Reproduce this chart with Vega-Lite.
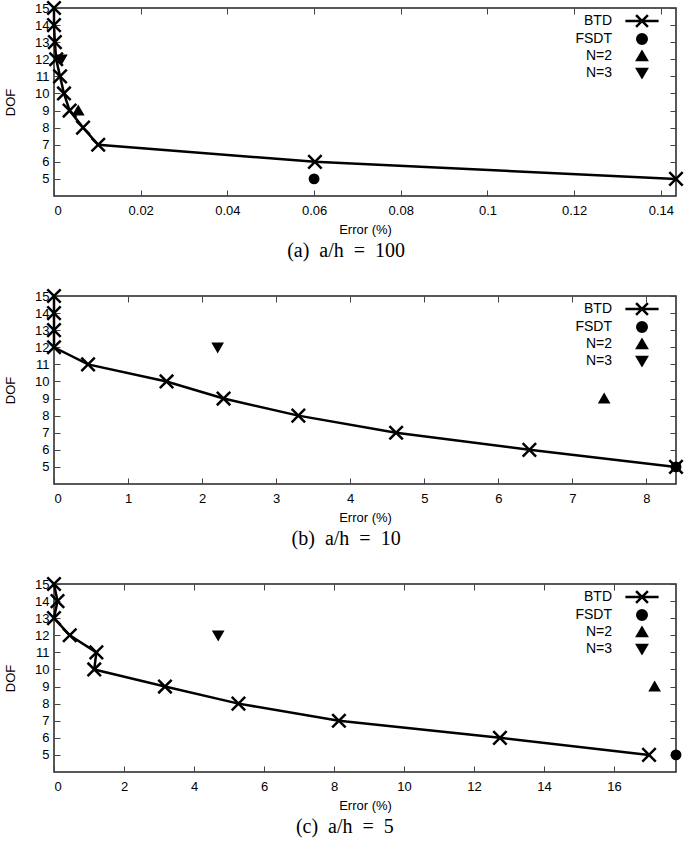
{
  "$schema": "https://vega.github.io/schema/vega-lite/v6.json",
  "padding": {"top": -5, "left": 3, "right": 0, "bottom": 0},
  "background": "white",
  "spacing": 21,
  "resolve": {"scale": {"shape": "independent"}, "legend": {"shape": "independent"}},
  "datasets": {
    "pts": [
      {"panel": "a", "series": "BTD", "err": 0, "dof": 15},
      {"panel": "a", "series": "BTD", "err": 0, "dof": 14},
      {"panel": "a", "series": "BTD", "err": 0.0002, "dof": 13},
      {"panel": "a", "series": "BTD", "err": 0.0005, "dof": 12},
      {"panel": "a", "series": "BTD", "err": 0.0014, "dof": 11},
      {"panel": "a", "series": "BTD", "err": 0.0023, "dof": 10},
      {"panel": "a", "series": "BTD", "err": 0.0036, "dof": 9},
      {"panel": "a", "series": "BTD", "err": 0.0067, "dof": 8},
      {"panel": "a", "series": "BTD", "err": 0.0102, "dof": 7},
      {"panel": "a", "series": "BTD", "err": 0.0602, "dof": 6},
      {"panel": "a", "series": "BTD", "err": 0.1435, "dof": 5},
      {"panel": "a", "series": "FSDT", "err": 0.06, "dof": 5},
      {"panel": "a", "series": "N=2", "err": 0.0056, "dof": 9},
      {"panel": "a", "series": "N=3", "err": 0.0017, "dof": 12},
      {"panel": "b", "series": "BTD", "err": 0, "dof": 15},
      {"panel": "b", "series": "BTD", "err": 0, "dof": 14},
      {"panel": "b", "series": "BTD", "err": 0, "dof": 13},
      {"panel": "b", "series": "BTD", "err": 0, "dof": 12},
      {"panel": "b", "series": "BTD", "err": 0.46, "dof": 11},
      {"panel": "b", "series": "BTD", "err": 1.52, "dof": 10},
      {"panel": "b", "series": "BTD", "err": 2.29, "dof": 9},
      {"panel": "b", "series": "BTD", "err": 3.3, "dof": 8},
      {"panel": "b", "series": "BTD", "err": 4.62, "dof": 7},
      {"panel": "b", "series": "BTD", "err": 6.42, "dof": 6},
      {"panel": "b", "series": "BTD", "err": 8.4, "dof": 5},
      {"panel": "b", "series": "FSDT", "err": 8.4, "dof": 5},
      {"panel": "b", "series": "N=2", "err": 7.43, "dof": 9},
      {"panel": "b", "series": "N=3", "err": 2.21, "dof": 12},
      {"panel": "c", "series": "BTD", "err": 0, "dof": 15},
      {"panel": "c", "series": "BTD", "err": 0.1, "dof": 14},
      {"panel": "c", "series": "BTD", "err": 0, "dof": 13},
      {"panel": "c", "series": "BTD", "err": 0.45, "dof": 12},
      {"panel": "c", "series": "BTD", "err": 1.21, "dof": 11},
      {"panel": "c", "series": "BTD", "err": 1.15, "dof": 10},
      {"panel": "c", "series": "BTD", "err": 3.17, "dof": 9},
      {"panel": "c", "series": "BTD", "err": 5.27, "dof": 8},
      {"panel": "c", "series": "BTD", "err": 8.14, "dof": 7},
      {"panel": "c", "series": "BTD", "err": 12.74, "dof": 6},
      {"panel": "c", "series": "BTD", "err": 17.0, "dof": 5},
      {"panel": "c", "series": "FSDT", "err": 17.77, "dof": 5},
      {"panel": "c", "series": "N=2", "err": 17.16, "dof": 9},
      {"panel": "c", "series": "N=3", "err": 4.69, "dof": 12}
    ]
  },
  "vconcat": [
    {
      "width": 622, "height": 188,
      "data": {"name": "pts"},
      "transform": [{"filter": "datum.panel === 'a'"}],
      "title": {"text": "(a)\u2002a/h\u2002=\u2002100", "orient": "bottom", "frame": "bounds", "anchor": "middle", "font": "Liberation Serif", "fontSize": 20, "fontWeight": "normal", "color": "black", "offset": 5},
      "layer": [
        {
          "transform": [{"filter": "datum.series === 'BTD'"}],
          "mark": {"type": "line", "color": "black", "strokeWidth": 2.5, "clip": false},
          "encoding": {
            "x": {"field": "err", "type": "quantitative", "scale": {"domain": [0, 0.1435], "nice": false, "zero": false},
                  "axis": {"orient": "bottom", "values": [0, 0.02, 0.04, 0.06, 0.08, 0.1, 0.12, 0.14], "format": "~g", "title": "Error (%)"}},
            "y": {"field": "dof", "type": "quantitative", "scale": {"domain": [4, 15], "nice": false, "zero": false},
                  "axis": {"orient": "left", "values": [5, 6, 7, 8, 9, 10, 11, 12, 13, 14, 15], "title": "DOF"}},
            "order": {"field": "dof", "type": "quantitative"}
          }
        },
        {
          "transform": [{"filter": "datum.series === 'BTD'"}],
          "mark": {"type": "point", "shape": "M-1,-1L1,1M-1,1L1,-1", "filled": true, "color": "black", "stroke": "black", "strokeWidth": 2.5, "size": 180, "opacity": 1, "clip": false},
          "encoding": {
            "x": {"field": "err", "type": "quantitative", "axis": {"orient": "top", "values": [0, 0.02, 0.04, 0.06, 0.08, 0.1, 0.12, 0.14], "labels": false, "title": null}},
            "y": {"field": "dof", "type": "quantitative", "axis": {"orient": "right", "values": [5, 6, 7, 8, 9, 10, 11, 12, 13, 14, 15], "labels": false, "title": null}}
          }
        },
        {
          "transform": [{"filter": "datum.series !== 'BTD'"}],
          "mark": {"type": "point", "filled": true, "color": "black", "stroke": "black", "strokeWidth": 2.5, "size": 70, "opacity": 1, "clip": false},
          "encoding": {
            "x": {"field": "err", "type": "quantitative", "axis": null},
            "y": {"field": "dof", "type": "quantitative", "axis": null},
            "shape": {"field": "series", "type": "nominal", "title": null,
                      "scale": {"domain": ["BTD", "FSDT", "N=2", "N=3"], "range": ["M-3.5,0L3.5,0M-1.25,-1.25L1.25,1.25M-1.25,1.25L1.25,-1.25", "circle", "triangle-up", "triangle-down"]},
                      "legend": {"orient": "none", "legendX": 581, "legendY": 6, "padding": 0, "labelAlign": "right", "labelOffset": -37, "symbolOffset": 0, "rowPadding": -3.5, "symbolSize": 90, "symbolStrokeWidth": 2.5,
                                 "labelFont": "Liberation Sans", "labelFontSize": 14, "labelColor": "black"}}
          }
        }
      ],
      "resolve": {"axis": {"x": "independent", "y": "independent"}}
    },
    {
      "width": 622, "height": 188,
      "data": {"name": "pts"},
      "transform": [{"filter": "datum.panel === 'b'"}],
      "title": {"text": "(b)\u2002a/h\u2002=\u200210", "orient": "bottom", "frame": "bounds", "anchor": "middle", "font": "Liberation Serif", "fontSize": 20, "fontWeight": "normal", "color": "black", "offset": 5},
      "layer": [
        {
          "transform": [{"filter": "datum.series === 'BTD'"}],
          "mark": {"type": "line", "color": "black", "strokeWidth": 2.5, "clip": false},
          "encoding": {
            "x": {"field": "err", "type": "quantitative", "scale": {"domain": [0, 8.4], "nice": false, "zero": false},
                  "axis": {"orient": "bottom", "values": [0, 1, 2, 3, 4, 5, 6, 7, 8], "format": "~g", "title": "Error (%)"}},
            "y": {"field": "dof", "type": "quantitative", "scale": {"domain": [4, 15], "nice": false, "zero": false},
                  "axis": {"orient": "left", "values": [5, 6, 7, 8, 9, 10, 11, 12, 13, 14, 15], "title": "DOF"}},
            "order": {"field": "dof", "type": "quantitative"}
          }
        },
        {
          "transform": [{"filter": "datum.series === 'BTD'"}],
          "mark": {"type": "point", "shape": "M-1,-1L1,1M-1,1L1,-1", "filled": true, "color": "black", "stroke": "black", "strokeWidth": 2.5, "size": 180, "opacity": 1, "clip": false},
          "encoding": {
            "x": {"field": "err", "type": "quantitative", "axis": {"orient": "top", "values": [0, 1, 2, 3, 4, 5, 6, 7, 8], "labels": false, "title": null}},
            "y": {"field": "dof", "type": "quantitative", "axis": {"orient": "right", "values": [5, 6, 7, 8, 9, 10, 11, 12, 13, 14, 15], "labels": false, "title": null}}
          }
        },
        {
          "transform": [{"filter": "datum.series !== 'BTD'"}],
          "mark": {"type": "point", "filled": true, "color": "black", "stroke": "black", "strokeWidth": 2.5, "size": 70, "opacity": 1, "clip": false},
          "encoding": {
            "x": {"field": "err", "type": "quantitative", "axis": null},
            "y": {"field": "dof", "type": "quantitative", "axis": null},
            "shape": {"field": "series", "type": "nominal", "title": null,
                      "scale": {"domain": ["BTD", "FSDT", "N=2", "N=3"], "range": ["M-3.5,0L3.5,0M-1.25,-1.25L1.25,1.25M-1.25,1.25L1.25,-1.25", "circle", "triangle-up", "triangle-down"]},
                      "legend": {"orient": "none", "legendX": 581, "legendY": 6, "padding": 0, "labelAlign": "right", "labelOffset": -37, "symbolOffset": 0, "rowPadding": -3.5, "symbolSize": 90, "symbolStrokeWidth": 2.5,
                                 "labelFont": "Liberation Sans", "labelFontSize": 14, "labelColor": "black"}}
          }
        }
      ],
      "resolve": {"axis": {"x": "independent", "y": "independent"}}
    },
    {
      "width": 622, "height": 188,
      "data": {"name": "pts"},
      "transform": [{"filter": "datum.panel === 'c'"}],
      "title": {"text": "(c)\u2002a/h\u2002=\u20025", "orient": "bottom", "frame": "bounds", "anchor": "middle", "font": "Liberation Serif", "fontSize": 20, "fontWeight": "normal", "color": "black", "offset": 5},
      "layer": [
        {
          "transform": [{"filter": "datum.series === 'BTD'"}],
          "mark": {"type": "line", "color": "black", "strokeWidth": 2.5, "clip": false},
          "encoding": {
            "x": {"field": "err", "type": "quantitative", "scale": {"domain": [0, 17.77], "nice": false, "zero": false},
                  "axis": {"orient": "bottom", "values": [0, 2, 4, 6, 8, 10, 12, 14, 16], "format": "~g", "title": "Error (%)"}},
            "y": {"field": "dof", "type": "quantitative", "scale": {"domain": [4, 15], "nice": false, "zero": false},
                  "axis": {"orient": "left", "values": [5, 6, 7, 8, 9, 10, 11, 12, 13, 14, 15], "title": "DOF"}},
            "order": {"field": "dof", "type": "quantitative"}
          }
        },
        {
          "transform": [{"filter": "datum.series === 'BTD'"}],
          "mark": {"type": "point", "shape": "M-1,-1L1,1M-1,1L1,-1", "filled": true, "color": "black", "stroke": "black", "strokeWidth": 2.5, "size": 180, "opacity": 1, "clip": false},
          "encoding": {
            "x": {"field": "err", "type": "quantitative", "axis": {"orient": "top", "values": [0, 2, 4, 6, 8, 10, 12, 14, 16], "labels": false, "title": null}},
            "y": {"field": "dof", "type": "quantitative", "axis": {"orient": "right", "values": [5, 6, 7, 8, 9, 10, 11, 12, 13, 14, 15], "labels": false, "title": null}}
          }
        },
        {
          "transform": [{"filter": "datum.series !== 'BTD'"}],
          "mark": {"type": "point", "filled": true, "color": "black", "stroke": "black", "strokeWidth": 2.5, "size": 70, "opacity": 1, "clip": false},
          "encoding": {
            "x": {"field": "err", "type": "quantitative", "axis": null},
            "y": {"field": "dof", "type": "quantitative", "axis": null},
            "shape": {"field": "series", "type": "nominal", "title": null,
                      "scale": {"domain": ["BTD", "FSDT", "N=2", "N=3"], "range": ["M-3.5,0L3.5,0M-1.25,-1.25L1.25,1.25M-1.25,1.25L1.25,-1.25", "circle", "triangle-up", "triangle-down"]},
                      "legend": {"orient": "none", "legendX": 581, "legendY": 6, "padding": 0, "labelAlign": "right", "labelOffset": -37, "symbolOffset": 0, "rowPadding": -3.5, "symbolSize": 90, "symbolStrokeWidth": 2.5,
                                 "labelFont": "Liberation Sans", "labelFontSize": 14, "labelColor": "black"}}
          }
        }
      ],
      "resolve": {"axis": {"x": "independent", "y": "independent"}}
    }
  ],
  "config": {
    "view": {"stroke": "#222", "strokeWidth": 1.5},
    "axis": {"domain": false, "grid": false, "ticks": true, "tickSize": -6, "tickColor": "#444", "tickWidth": 1,
             "labelFont": "Liberation Sans", "labelFontSize": 13, "labelColor": "black", "labelPadding": 14,
             "titleFont": "Liberation Sans", "titleFontSize": 13, "titleFontWeight": "normal", "titleColor": "black", "titlePadding": 6},
    "axisY": {"titlePadding": 17, "labelPadding": 11}
  }
}
